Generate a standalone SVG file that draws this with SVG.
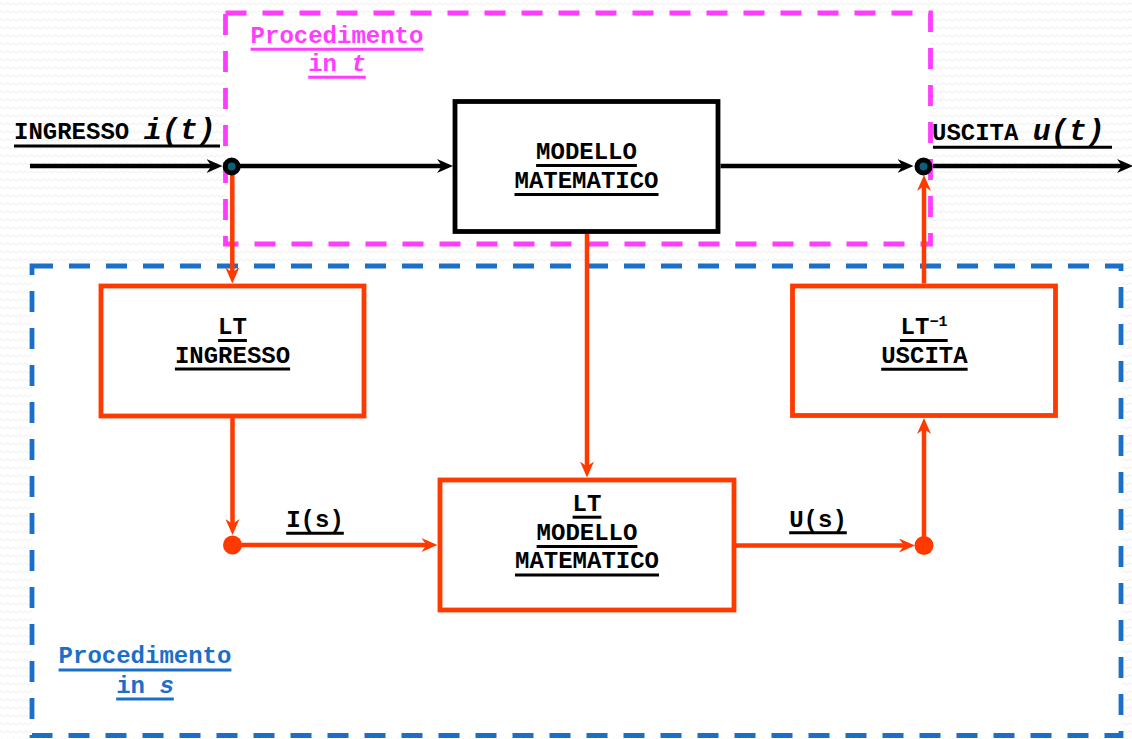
<svg xmlns="http://www.w3.org/2000/svg" width="1132" height="739" viewBox="0 0 1132 739">
<style>
text{font-family:"Liberation Mono","Courier New",monospace;font-weight:bold;font-size:24px;fill:#000}
.c{text-anchor:middle}
.it{font-style:italic}
.big{font-size:30px}
.ul{stroke:#000;stroke-width:3}
.mag{fill:#ff3cff}
.magu{stroke:#ff3cff;stroke-width:3}
.blu{fill:#1a6fc8}
.bluu{stroke:#1a6fc8;stroke-width:3}
.box{fill:#fff;stroke-width:4.8}
.k{stroke:#000;stroke-width:4.5;fill:none}
.o{stroke:#ff3a00;stroke-width:4.5;fill:none}
.ka{marker-end:url(#ak)}
.oa{marker-end:url(#ao)}
</style>
<defs>
<pattern id="bg" width="6" height="8" patternUnits="userSpaceOnUse">
<path d="M0,4 Q1.5,2 3,4 T6,4" fill="none" stroke="#ececec" stroke-width="1"/>
</pattern>
<marker id="ak" viewBox="0 0 16 14" refX="8" refY="7" markerWidth="16" markerHeight="14" markerUnits="userSpaceOnUse" orient="auto">
<path d="M0,0 L16,7 L0,14 L5,7 z" fill="#000"/>
</marker>
<marker id="ao" viewBox="0 0 16 14" refX="8" refY="7" markerWidth="16" markerHeight="14" markerUnits="userSpaceOnUse" orient="auto">
<path d="M0,0 L16,7 L0,14 L5,7 z" fill="#ff3a00"/>
</marker>
</defs>
<rect x="0" y="0" width="1132" height="739" fill="#fff"/>
<rect x="0" y="0" width="1132" height="739" fill="url(#bg)"/>

<g id="area-t">
<rect x="225.5" y="13" width="705" height="231" fill="#fff" stroke="#ff3cff" stroke-width="4.8" stroke-dasharray="21 16"/>
<text class="c mag" x="337" y="42.5">Procedimento</text>
<line class="magu" x1="250.6" y1="49.3" x2="423.4" y2="49.3"/>
<text class="c mag" x="337" y="71">in <tspan class="it">t</tspan></text>
<line class="magu" x1="308.2" y1="77.3" x2="365.8" y2="77.3"/>
</g>

<g id="area-s">
<rect x="32" y="266" width="1089" height="469.5" fill="#fff" stroke="#1a6fc8" stroke-width="4.8" stroke-dasharray="21 16"/>
<text class="c blu" x="145" y="663.3">Procedimento</text>
<line class="bluu" x1="58.6" y1="670" x2="231.4" y2="670"/>
<text class="c blu" x="145" y="692.7">in <tspan class="it">s</tspan></text>
<line class="bluu" x1="116.2" y1="699" x2="173.8" y2="699"/>
</g>

<g id="input-label">
<text x="14" y="138.5">INGRESSO <tspan class="it big">i(t)</tspan></text>
<line class="ul" x1="14" y1="146" x2="220" y2="146"/>
</g>

<g id="output-label">
<text x="932" y="139.5">USCITA <tspan class="it big">u(t)</tspan></text>
<line class="ul" x1="933" y1="147.3" x2="1112" y2="147.3"/>
</g>

<g id="modello">
<rect class="box" x="455" y="101.5" width="263" height="130" stroke="#000"/>
<text class="c" x="586.5" y="159">MODELLO</text>
<line class="ul" x1="536.1" y1="165.5" x2="636.9" y2="165.5"/>
<text class="c" x="586.5" y="188.3">MATEMATICO</text>
<line class="ul" x1="514.5" y1="194.5" x2="658.5" y2="194.5"/>
</g>

<g id="lt-ingresso">
<rect class="box" x="101" y="286" width="263" height="130" stroke="#ff3a00"/>
<text class="c" x="232.5" y="334">LT</text>
<line class="ul" x1="218.1" y1="340.5" x2="246.9" y2="340.5"/>
<text class="c" x="232.5" y="362.7">INGRESSO</text>
<line class="ul" x1="174.9" y1="369" x2="290.1" y2="369"/>
</g>

<g id="lt-inv-uscita">
<rect class="box" x="792.5" y="286" width="263" height="129.5" stroke="#ff3a00"/>
<text class="c" x="924" y="334">LT<tspan font-size="15" dy="-8">−1</tspan></text>
<line class="ul" x1="900" y1="340.5" x2="947.7" y2="340.5"/>
<text class="c" x="924.4" y="363.3">USCITA</text>
<line class="ul" x1="881.2" y1="369.3" x2="967.6" y2="369.3"/>
</g>

<g id="lt-modello">
<rect class="box" x="440" y="480" width="294" height="130" stroke="#ff3a00"/>
<text class="c" x="587" y="510.7">LT</text>
<line class="ul" x1="572.6" y1="517.2" x2="601.4" y2="517.2"/>
<text class="c" x="587" y="540">MODELLO</text>
<line class="ul" x1="536.6" y1="546.5" x2="637.4" y2="546.5"/>
<text class="c" x="587" y="568.3">MATEMATICO</text>
<line class="ul" x1="515" y1="575" x2="659" y2="575"/>
</g>

<g id="label-Is">
<text class="c" x="315" y="526.7">I(s)</text>
<line class="ul" x1="286.2" y1="533.3" x2="343.8" y2="533.3"/>
</g>

<g id="label-Us">
<text class="c" x="818" y="526.7">U(s)</text>
<line class="ul" x1="789.2" y1="532.8" x2="846.8" y2="532.8"/>
</g>

<g id="connectors">
<line class="k ka" x1="30" y1="166" x2="214.5" y2="166"/>
<line class="k ka" x1="240" y1="166" x2="445" y2="166"/>
<line class="k ka" x1="720.5" y1="166" x2="905.5" y2="166"/>
<line class="k ka" x1="933" y1="166" x2="1125" y2="166"/>
<line class="o oa" x1="232.3" y1="170" x2="232.3" y2="275.5"/>
<line class="o oa" x1="232.5" y1="418" x2="232.5" y2="527"/>
<line class="o oa" x1="232.5" y1="545" x2="429.5" y2="545"/>
<line class="o oa" x1="587" y1="234" x2="587" y2="469.5"/>
<line class="o oa" x1="736" y1="545.5" x2="907" y2="545.5"/>
<line class="o oa" x1="924" y1="545" x2="924" y2="426"/>
<line class="o oa" x1="924" y1="283.5" x2="924" y2="183"/>
<circle cx="232.5" cy="545" r="9.5" fill="#ff3a00"/>
<circle cx="924" cy="545.5" r="9.5" fill="#ff3a00"/>
<circle cx="231.7" cy="166.5" r="6.5" fill="#0b5f78" stroke="#000" stroke-width="5"/>
<circle cx="923.5" cy="166.5" r="6.5" fill="#0b5f78" stroke="#000" stroke-width="5"/>
</g>
</svg>
